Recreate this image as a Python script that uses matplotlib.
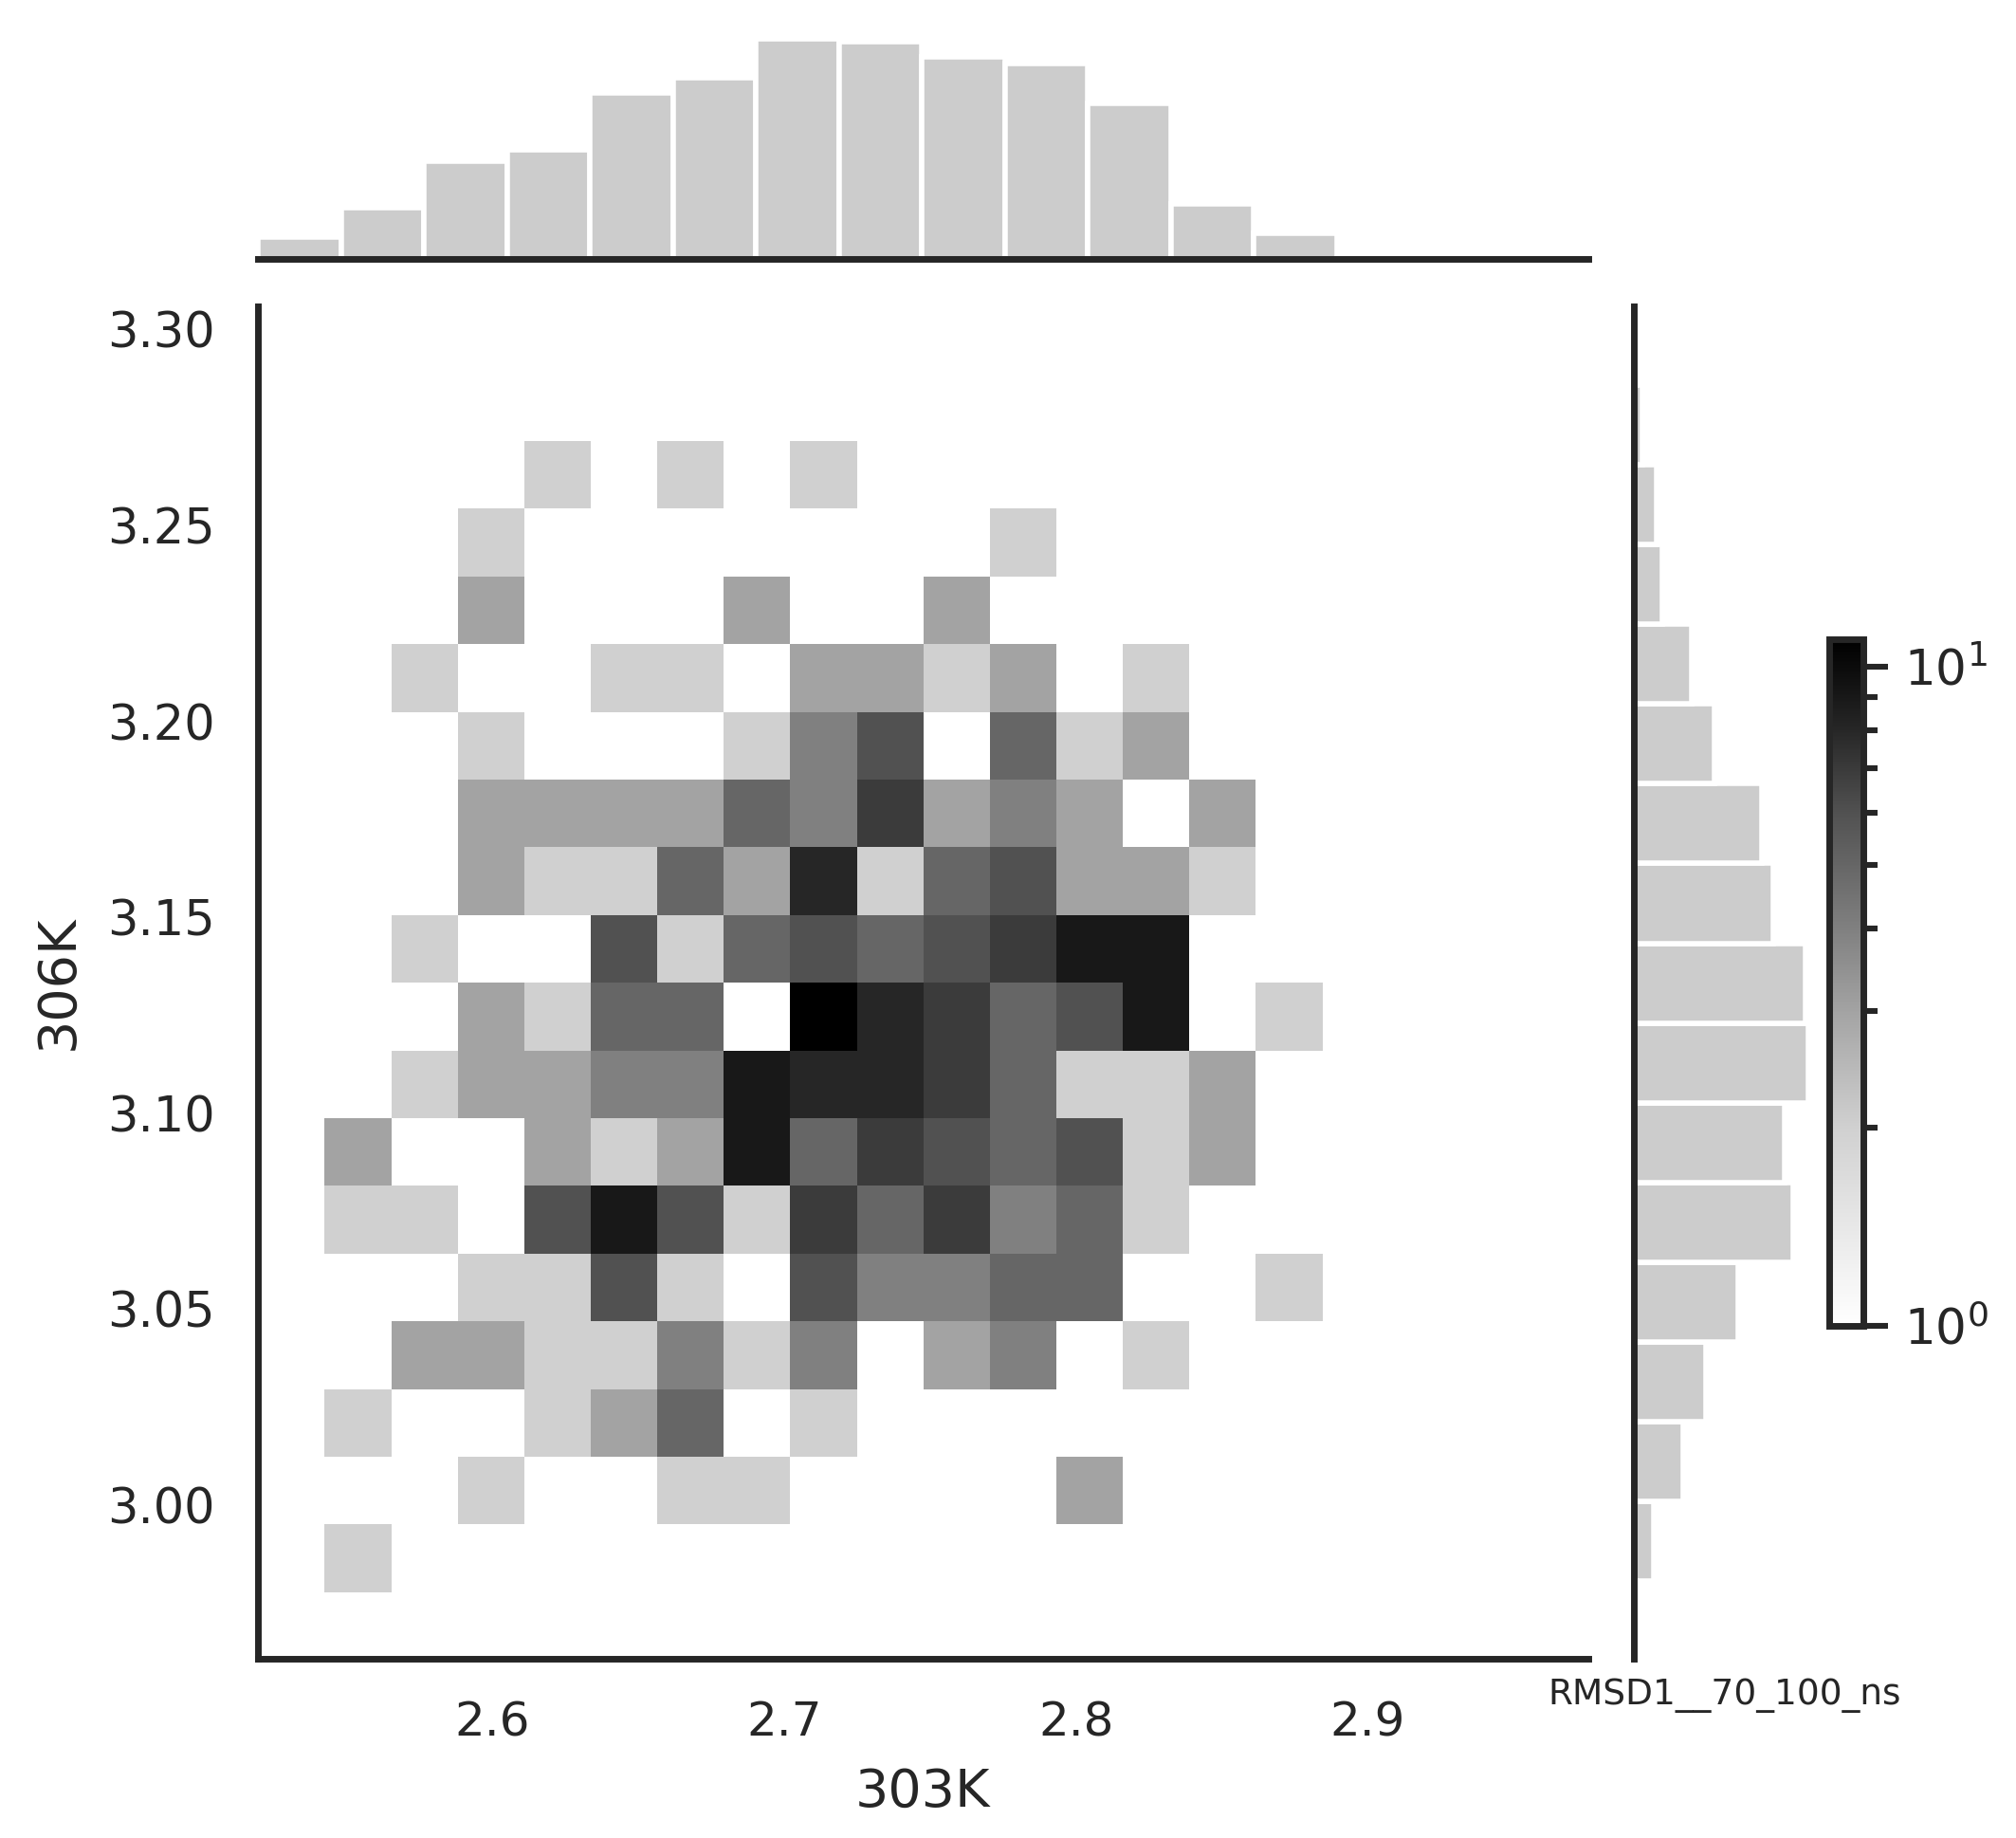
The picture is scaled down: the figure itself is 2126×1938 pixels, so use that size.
import numpy as np
import matplotlib
matplotlib.use("Agg")
import matplotlib.pyplot as plt
from matplotlib.colors import LinearSegmentedColormap, LogNorm

# counts per cell, top row first, 0 = empty
counts = [
    [0, 0, 0, 2, 0, 2, 0, 2, 0, 0, 0, 0, 0, 0, 0],
    [0, 0, 2, 0, 0, 0, 0, 0, 0, 0, 2, 0, 0, 0, 0],
    [0, 0, 3, 0, 0, 0, 3, 0, 0, 3, 0, 0, 0, 0, 0],
    [0, 2, 1, 1, 2, 2, 1, 3, 3, 2, 3, 0, 2, 0, 0],
    [0, 0, 2, 1, 1, 1, 2, 4, 6, 1, 5, 2, 3, 0, 0],
    [0, 0, 3, 3, 3, 3, 5, 4, 7, 3, 4, 3, 1, 3, 0],
    [0, 0, 3, 2, 2, 5, 3, 8, 2, 5, 6, 3, 3, 2, 0],
    [0, 2, 1, 1, 6, 2, 5, 6, 5, 6, 7, 9, 9, 0, 0],
    [0, 0, 3, 2, 5, 5, 1, 11, 8, 7, 5, 6, 9, 0, 2],
    [0, 2, 3, 3, 4, 4, 9, 8, 8, 7, 5, 2, 2, 3, 0],
    [3, 1, 1, 3, 2, 3, 9, 5, 7, 6, 5, 6, 2, 3, 0],
    [2, 2, 1, 6, 9, 6, 2, 7, 5, 7, 4, 5, 2, 0, 0],
    [0, 0, 2, 2, 6, 2, 1, 6, 4, 4, 5, 5, 0, 0, 2],
    [0, 3, 3, 2, 2, 4, 2, 4, 0, 3, 4, 0, 2, 0, 0],
    [2, 1, 1, 2, 3, 5, 1, 2, 0, 0, 0, 0, 0, 0, 0],
    [0, 0, 2, 0, 0, 2, 2, 0, 0, 0, 0, 3, 0, 0, 0],
    [2, 0, 0, 0, 0, 0, 0, 0, 0, 0, 0, 0, 0, 0, 0],
]
xedges = np.linspace(2.5424, 2.8845, 16)
yedges = np.linspace(3.2715, 2.9778, 18)

top_counts = [6, 14, 27, 30, 46, 50, 61, 60, 56, 54, 43, 15, 7]
top_edges = np.linspace(2.5195, 2.8895, 14)
right_counts = [2, 7, 17, 25, 36, 55, 52, 60, 59, 48, 44, 28, 20, 10, 8, 3]
right_edges = np.linspace(2.9604, 3.2857, 17)

xticks = [2.6, 2.7, 2.8, 2.9]
yticks = [3.00, 3.05, 3.10, 3.15, 3.20, 3.25, 3.30]

# grey seen for each count in the picture
level_counts = [1, 2, 3, 4, 5, 6, 7, 8, 9, 11]
level_greys = [1.0, 0.816, 0.639, 0.502, 0.4, 0.318, 0.231, 0.153, 0.094, 0.0]

W, H = 2126, 1938
dark = "#262626"

plt.rcParams["font.family"] = "DejaVu Sans"
plt.rcParams["text.color"] = dark
plt.rcParams["axes.labelcolor"] = dark
plt.rcParams["xtick.color"] = dark
plt.rcParams["ytick.color"] = dark
plt.rcParams["axes.edgecolor"] = dark
plt.rcParams["axes.linewidth"] = 1.25


def axes_px(left, top, right, bottom):
    return fig.add_axes([left / W, 1 - bottom / H, (right - left) / W, (bottom - top) / H])


stops = [np.log(c) / np.log(11) for c in level_counts]
cmap = LinearSegmentedColormap.from_list(
    "greys_seen", [(s, (g, g, g)) for s, g in zip(stops, level_greys)], N=512
)

fig = plt.figure(figsize=(W / 400, H / 400), dpi=400)

ax = axes_px(272, 322.5, 1675, 1749)
grid = np.ma.masked_equal(np.array(counts), 0)
mesh = ax.pcolormesh(xedges, yedges, grid, cmap=cmap, norm=LogNorm(vmin=1, vmax=11), linewidth=0)
ax.set_xlim(2.5195, 2.9757)
ax.set_ylim(2.9608, 3.306)
ax.set_xticks(xticks)
ax.set_xticklabels(["%.1f" % t for t in xticks])
ax.set_yticks(yticks)
ax.set_yticklabels(["%.2f" % t for t in yticks])
ax.tick_params(axis="x", length=0, labelsize=9, pad=7.8)
ax.tick_params(axis="y", length=0, labelsize=9.2, pad=8.2)
ax.set_xlabel("303K", fontsize=10, labelpad=4)
ax.set_ylabel("306K", fontsize=10, labelpad=4.3)
ax.spines["top"].set_visible(False)
ax.spines["right"].set_visible(False)

ax_top = axes_px(272, 33, 1675, 272.5)
ax_top.bar(top_edges[:-1], top_counts, width=np.diff(top_edges), align="edge",
           color="#cccccc", edgecolor="white", linewidth=1.0)
ax_top.set_xlim(2.5195, 2.9757)
ax_top.set_ylim(0, 63)
ax_top.set_xticks([])
ax_top.set_yticks([])
for side in ["top", "left", "right"]:
    ax_top.spines[side].set_visible(False)

ax_right = axes_px(1722.5, 322.5, 1962.5, 1749)
ax_right.barh(right_edges[:-1], right_counts, height=np.diff(right_edges), align="edge",
              color="#cccccc", edgecolor="white", linewidth=1.0)
ax_right.set_ylim(2.9608, 3.306)
ax_right.set_xlim(0, 78.2)
ax_right.set_xticks([])
ax_right.set_yticks([])
for side in ["top", "bottom", "right"]:
    ax_right.spines[side].set_visible(False)

cax = axes_px(1928.5, 674, 1964.5, 1398)
cbar = fig.colorbar(mesh, cax=cax)
cbar.ax.tick_params(which="major", length=4.7, width=1.1, labelsize=9.3, pad=3.1)
cbar.ax.tick_params(which="minor", length=2.7, width=1.1)

fig.text(1632 / W, 1 - 1797 / H, "RMSD1__70_100_ns", fontsize=6.75, ha="left", va="baseline")

fig.savefig("out.png", dpi=400)
